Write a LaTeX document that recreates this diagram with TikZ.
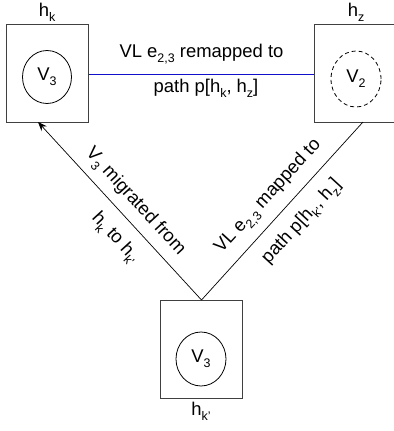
\documentclass[tikz,border=0pt]{standalone}
\usepackage{fontspec}
\setmainfont{Liberation Sans}
\usetikzlibrary{arrows.meta,shapes.geometric}
\newcommand\sbs[1]{\raisebox{-0.28em}{\fontsize{12.5}{12.5}\selectfont #1}}
\definecolor{boxgray}{HTML}{404040}
\definecolor{vlblue}{HTML}{1010CC}
\begin{document}
\begin{tikzpicture}[x=1bp,y=-1bp,
  font=\fontsize{18.5}{22}\selectfont,
  hostbox/.style={draw=boxgray, line width=1bp, minimum width=81bp, minimum height=98bp, inner sep=0pt},
  vmnode/.style={draw=black, ellipse, line width=0.8bp, minimum width=49bp, minimum height=53bp, inner sep=0pt},
  lbl/.style={inner sep=0pt, anchor=base},
  edgelbl/.style={inner sep=0pt}]
\useasboundingbox (0,0) rectangle (394,431);
% hosts
\node[hostbox] (hk) at (47.5,73) {};
\node[hostbox] (hz) at (355.5,73) {};
\node[hostbox] (hkp) at (201.5,349.5) {};
% VMs
\node[vmnode] (v3a) at (47,77) {V\sbs{3}};
\node[vmnode, dashed, dash pattern=on 4bp off 3bp, minimum width=50bp, minimum height=56bp] (v2) at (356,79) {V\sbs{2}};
\node[vmnode, minimum width=50bp, minimum height=54bp] (v3b) at (201,359) {V\sbs{3}};
% host labels
\node[lbl] (lhk) at (47,16) {h\sbs{k}};
\node[lbl] (lhz) at (356,16) {h\sbs{z}};
\node[lbl] (lhkp) at (201,415) {h\sbs{k’}};
% edges
\coordinate (hkin) at (38,122);
\coordinate (hzin) at (363,122);
\draw[vlblue, line width=0.8bp] (hk.east |- 0,74) -- (hz.west |- 0,74);
\draw[black, line width=0.7bp, -{Stealth[length=9bp,width=7bp]}] (hkp.north) -- (hkin);
\draw[black, line width=0.7bp] (hkp.north) -- (hzin);
% edge labels
\node[lbl] (t1) at (201.5,57) {VL e\sbs{2,3} remapped to};
\node[lbl] (t2) at (206,92) {path p[h\sbs{k}, h\sbs{z}]};
\node[edgelbl, rotate=-47.5] (t3a) at (135,202) {V\sbs{3} migrated from};
\node[edgelbl, rotate=-47.5] (t3b) at (115,238) {h\sbs{k} to h\sbs{k’}};
\node[edgelbl, rotate=47.5] (t4a) at (269,197) {VL e\sbs{2,3} mapped to};
\node[edgelbl, rotate=47.5] (t4b) at (302,222) {path p[h\sbs{k’}, h\sbs{z}]};
\end{tikzpicture}
\end{document}
